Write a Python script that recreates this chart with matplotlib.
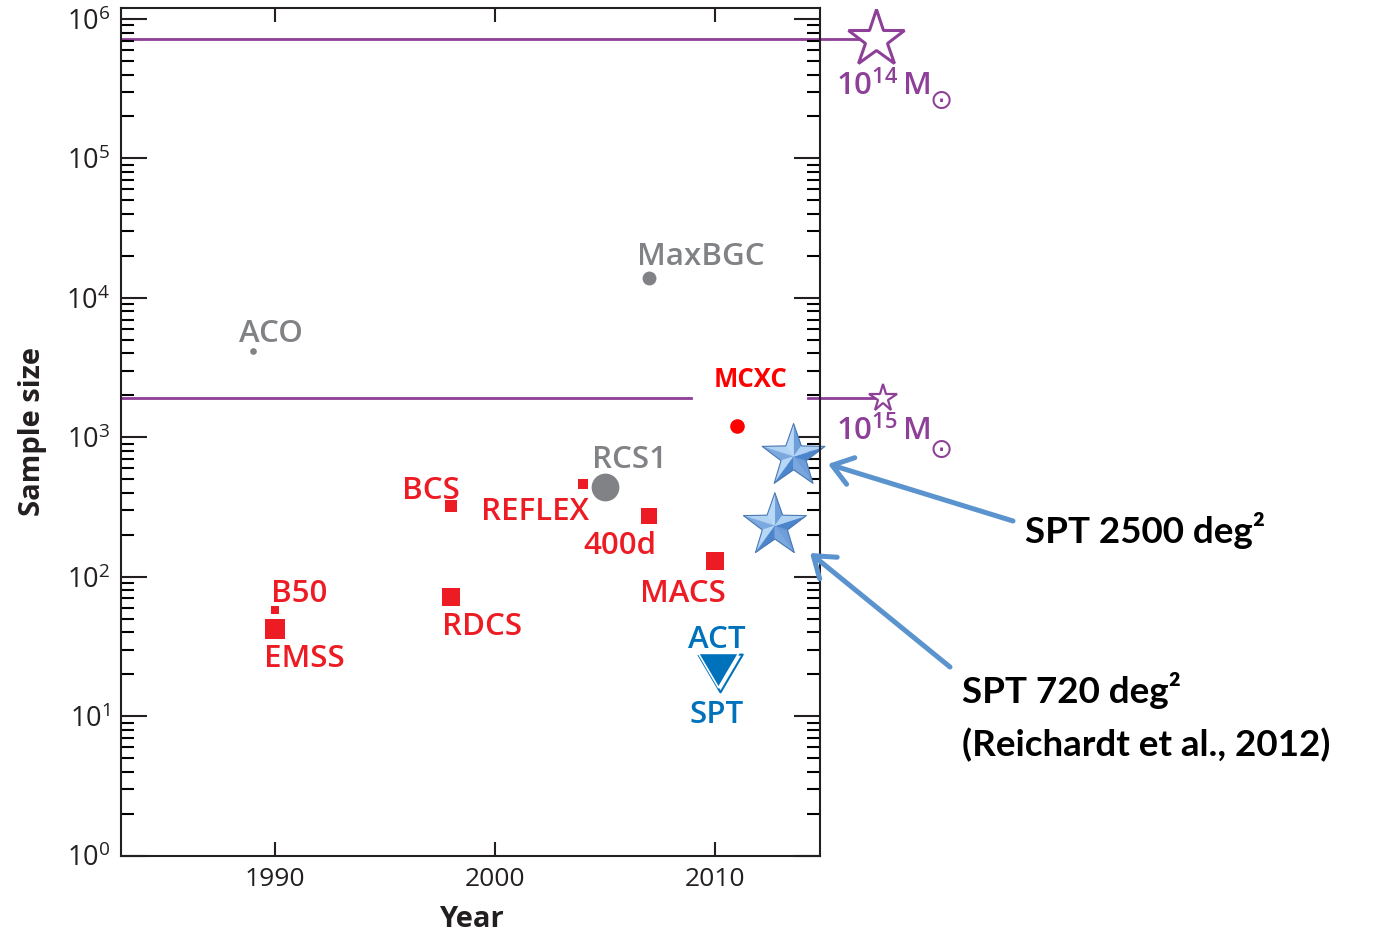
import numpy as np
import matplotlib
matplotlib.use('Agg')
import matplotlib.pyplot as plt
from matplotlib import ticker
from matplotlib.collections import PolyCollection
from matplotlib.patches import FancyArrowPatch
from matplotlib.transforms import Affine2D

# ---------------- data ----------------
square_names = ['B50', 'EMSS', 'RDCS', 'BCS', 'REFLEX', '400d', 'MACS']
square_years = [1990, 1990, 1998, 1998, 2004, 2007, 2010]
square_sizes = [58, 42, 72, 323, 463, 273, 130]

gray_names = ['ACO', 'MaxBGC', 'RCS1']
gray_years = [1989, 2007, 2005]
gray_sizes = [4160, 13800, 441]

mcxc_names = ['MCXC']
mcxc_years = [2011]
mcxc_sizes = [1200]

sz_names = ['ACT', 'SPT']
sz_years = [2010.1, 2010.2]
sz_sizes = [21.3, 20.3]

spt_names = ['SPT 2500 deg²', 'SPT 720 deg²\n(Reichardt et al., 2012)']
spt_years = [2013.55, 2012.7]
spt_sizes = [728, 232]

mass_labels = ['14', '15']
mass_limits = [7.15e5, 1924]
mass_star_years = [2017.3, 2017.6]

xticks = [1990, 2000, 2010]
yticks = [1, 10, 100, 1e3, 1e4, 1e5, 1e6]
xlim = (1983, 2014.75)
ylim = (1, 10 ** 6.079)
line2_gap = (2008.9, 2014.2)

# ---------------- style ----------------
RED = '#ED1C24'
GRAY = '#808285'
PURPLE = '#8E3F98'
BLUE = '#0072BC'
MCXC_RED = '#FF0000'
ARROW = '#5B93CF'
TXT = '#231F20'

square_ms = [5.8, 14, 13, 8, 7.7, 11.5, 12.7]
gray_ms = [4.8, 10, 20]
# label offsets in pixels (dx, dy) of text baseline-centre from marker
square_off = [(24, 8), (29, -38), (31, -38), (-20, 7), (-48, -36), (-29, -38), (-32, -41)]
gray_off = [(18, 9), (51, 13), (24, 19)]
mcxc_off = [(13, 39)]
sz_off = [(-1, 22), (-3, -50)]
mass_off = [(-40, -56), (-47, -43)]
sun_off = [(65, -59), (58, -49)]
mass_ms = [43, 20.7]
mass_mew = [2.2, 1.6]
LABEL_FS = 22.5

plt.rcParams['font.family'] = ['Open Sans', 'DejaVu Sans']
plt.rcParams['mathtext.fontset'] = 'dejavusans'

fig = plt.figure(figsize=(13.78, 9.33), dpi=100)
ax = fig.add_axes([121 / 1378, 77.3 / 933, 699 / 1378, 847.7 / 933])
ax.set_yscale('log')
ax.set_xlim(*xlim)
ax.set_ylim(*ylim)

for sp in ax.spines.values():
    sp.set_linewidth(1.5)
    sp.set_color(TXT)

ax.set_xticks(xticks)
ax.set_xticklabels([str(t) for t in xticks])
ax.yaxis.set_major_locator(ticker.FixedLocator(yticks))
ax.yaxis.set_minor_locator(ticker.LogLocator(base=10, subs=np.arange(2, 10), numticks=20))
ax.yaxis.set_major_formatter(ticker.LogFormatterMathtext())
ax.yaxis.set_minor_formatter(ticker.NullFormatter())
ax.tick_params(axis='y', which='major', direction='in', length=18.7, width=1.5,
               left=True, right=True, pad=8, labelsize=19.5, colors=TXT)
ax.tick_params(axis='y', which='minor', direction='in', length=9.4, width=1.5,
               left=True, right=True)
ax.tick_params(axis='x', which='major', direction='in', length=10, width=1.5,
               top=True, bottom=True, pad=8, labelsize=19, colors=TXT)
ax.tick_params(axis='x', which='minor', bottom=False, top=False)

ax.set_xlabel('Year', fontsize=21, fontweight='bold', color=TXT)
ax.xaxis.set_label_coords(0.5007, -0.058)
ax.set_ylabel('Sample size', fontsize=21, fontweight='bold', color=TXT)
ax.yaxis.set_label_coords(-0.126, 0.5)
ax.yaxis.label.set_va('center')

# ---------------- mass-limit lines ----------------
ax.plot([xlim[0], mass_star_years[0]], [mass_limits[0]] * 2, color=PURPLE, lw=2,
        clip_on=False, zorder=1.5)
ax.plot([xlim[0], line2_gap[0]], [mass_limits[1]] * 2, color=PURPLE, lw=2,
        clip_on=False, zorder=1.5)
ax.plot([line2_gap[1], mass_star_years[1]], [mass_limits[1]] * 2, color=PURPLE, lw=2,
        clip_on=False, zorder=1.5)
for yr, lim, lab, ms, mew, off, soff in zip(mass_star_years, mass_limits, mass_labels,
                                            mass_ms, mass_mew, mass_off, sun_off):
    ax.plot([yr], [lim], marker='*', ms=ms, mfc='white', mec=PURPLE, mew=mew,
            clip_on=False, zorder=3, linestyle='none')
    ax.annotate(r'$\mathdefault{10^{%s}\,M}$' % lab, xy=(yr, lim), xycoords='data',
                xytext=off, textcoords='offset pixels', ha='left', va='baseline',
                fontsize=LABEL_FS, fontweight='semibold', color=PURPLE, annotation_clip=False)
    ax.annotate('⊙', xy=(yr, lim), xycoords='data', xytext=soff,
                textcoords='offset pixels', ha='center', va='center_baseline',
                fontsize=20, family='DejaVu Sans', color=PURPLE, annotation_clip=False)

# ---------------- points ----------------
for n, x, y, ms, off in zip(square_names, square_years, square_sizes, square_ms, square_off):
    ax.plot([x], [y], marker='s', ms=ms, mfc=RED, mew=0, linestyle='none', zorder=3)
    ax.annotate(n, xy=(x, y), xytext=off, textcoords='offset pixels', ha='center',
                va='baseline', fontsize=LABEL_FS, fontweight='semibold', color=RED)

for n, x, y, ms, off in zip(gray_names, gray_years, gray_sizes, gray_ms, gray_off):
    ax.plot([x], [y], marker='o', ms=ms, mfc=GRAY, mew=0, linestyle='none', zorder=3)
    ax.annotate(n, xy=(x, y), xytext=off, textcoords='offset pixels', ha='center',
                va='baseline', fontsize=LABEL_FS, fontweight='semibold', color=GRAY)

for n, x, y, off in zip(mcxc_names, mcxc_years, mcxc_sizes, mcxc_off):
    ax.plot([x], [y], marker='o', ms=10.5, mfc=MCXC_RED, mew=0, linestyle='none', zorder=3)
    ax.annotate(n, xy=(x, y), xytext=off, textcoords='offset pixels', ha='center',
                va='baseline', fontsize=18.5, fontweight='bold', color=MCXC_RED)

tri = [(-1, 0.85), (1, 0.85), (0, -0.85), (-1, 0.85)]
# SPT outline triangle (drawn first), ACT filled triangle on top
ax.plot([sz_years[1]], [sz_sizes[1]], marker=tri, ms=32, mfc='none', mec=BLUE,
        mew=1.5, linestyle='none', zorder=3)
ax.plot([sz_years[0]], [sz_sizes[0]], marker=tri, ms=29, mfc=BLUE, mec='white',
        mew=1.2, linestyle='none', zorder=3.1)
for n, x, y, off in zip(sz_names, sz_years, sz_sizes, sz_off):
    ax.annotate(n, xy=(x, y), xytext=off, textcoords='offset pixels', ha='center',
                va='baseline', fontsize=LABEL_FS, fontweight='semibold', color=BLUE)

# ---------------- bevelled SPT stars ----------------
def star_facets(r_in=0.40, h=0.45):
    facets, shades = [], []
    L = np.array([-0.55, 0.6, 0.75])
    L = L / np.linalg.norm(L)
    for k in range(5):
        a = np.pi / 2 + k * 2 * np.pi / 5
        tip = np.array([np.cos(a), np.sin(a)])
        for s in (-1, 1):
            b = a + s * np.pi / 5
            inner = np.array([np.cos(b), np.sin(b)]) * r_in
            facets.append([(0, 0), tuple(tip), tuple(inner)])
            c = np.array([0, 0, h])
            n = np.cross(np.r_[tip, 0] - c, np.r_[inner, 0] - c)
            if n[2] < 0:
                n = -n
            n = n / np.linalg.norm(n)
            shades.append(float(n @ L))
    outline = []
    for k in range(5):
        a = np.pi / 2 + k * 2 * np.pi / 5
        outline.append((np.cos(a), np.sin(a)))
        b = a + np.pi / 5
        outline.append((np.cos(b) * r_in, np.sin(b) * r_in))
    return facets, np.array(shades), outline

facets, shades, outline = star_facets()
sn = (shades - shades.min()) / (shades.max() - shades.min())
dark = np.array([0.30, 0.52, 0.80])
light = np.array([0.72, 0.85, 0.97])
fcols = [tuple(dark + (light - dark) * v) for v in sn]
R_in = 0.33
star_tr = Affine2D().scale(R_in) + fig.dpi_scale_trans
for x, y in zip(spt_years, spt_sizes):
    pc = PolyCollection(facets, facecolors=fcols, edgecolors=fcols, linewidths=0.3,
                        offsets=[(x, y)], offset_transform=ax.transData,
                        transform=star_tr, zorder=2, clip_on=False)
    ax.add_collection(pc, autolim=False)
    oc = PolyCollection([outline], facecolors='none', edgecolors='#4A78B2', linewidths=0.8,
                        offsets=[(x, y)], offset_transform=ax.transData,
                        transform=star_tr, zorder=2.05, clip_on=False)
    ax.add_collection(oc, autolim=False)

# ---------------- annotations on the right ----------------
arrow_tails = [(1013, 412), (950, 266)]
arrow_heads = [(828, 469), (810, 380)]
for t, hd in zip(arrow_tails, arrow_heads):
    fig.add_artist(FancyArrowPatch(
        posA=t, posB=hd, transform=None, arrowstyle='->,head_length=0.7,head_width=0.5',
        mutation_scale=20, color=ARROW, lw=3.6, shrinkA=0, shrinkB=0,
        capstyle='round', joinstyle='round'))

RFONT = dict(fontsize=26.5, fontweight='bold', family=['Lato', 'DejaVu Sans'],
             color='black', ha='left', va='baseline')
fig.text(1025 / 1378, 390 / 933, spt_names[0], **RFONT)
lines720 = spt_names[1].split('\n')
fig.text(962 / 1378, 229.7 / 933, lines720[0], **RFONT)
fig.text(962 / 1378, 176.3 / 933, lines720[1], **RFONT)

fig.savefig('out.png', dpi=100)
